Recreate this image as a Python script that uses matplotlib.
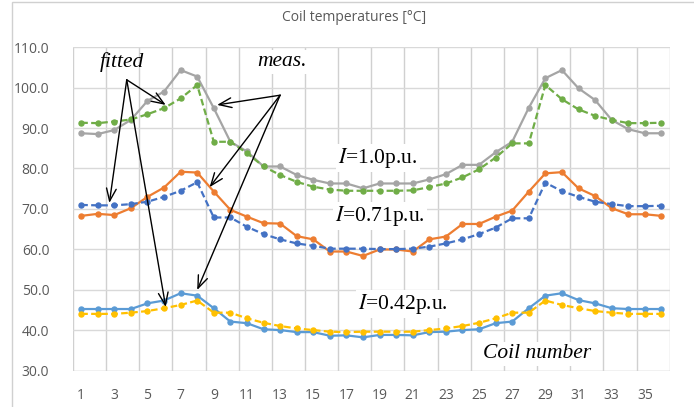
import matplotlib.pyplot as plt
from matplotlib.patches import Rectangle

plt.rcParams['mathtext.fontset'] = 'stix'

coils = list(range(1, 37))

meas_10 = [88.7, 88.5, 89.5, 92.0, 96.7, 99.0, 104.3, 102.7, 94.9, 86.6,
           84.2, 80.5, 80.5, 78.4, 77.2, 76.3, 76.3, 75.1, 76.3, 76.3,
           76.3, 77.3, 78.6, 80.9, 80.9, 84.0, 86.6, 95.0, 102.3, 104.3,
           99.8, 96.9, 92.0, 89.7, 88.7, 88.7]
fit_10 = [91.3, 91.2, 91.6, 92.1, 93.4, 94.9, 97.3, 100.6, 86.6, 86.6,
          83.8, 80.5, 78.4, 76.7, 75.5, 74.8, 74.5, 74.5, 74.5, 74.5,
          74.6, 75.4, 76.3, 77.8, 79.8, 82.7, 86.2, 86.2, 100.6, 97.1,
          94.6, 93.0, 92.0, 91.2, 91.2, 91.3]
meas_071 = [68.3, 68.8, 68.5, 70.2, 73.0, 75.3, 79.2, 79.0, 74.3, 69.8,
            68.1, 66.5, 66.4, 63.3, 62.5, 59.5, 59.5, 58.4, 60.0, 60.0,
            59.5, 62.5, 63.2, 66.3, 66.3, 68.1, 69.6, 74.3, 78.8, 79.1,
            75.1, 73.2, 70.2, 68.7, 68.7, 68.3]
fit_071 = [71.0, 70.9, 70.9, 71.2, 71.8, 73.0, 74.5, 76.6, 67.9, 67.9,
           65.6, 63.8, 62.5, 61.5, 60.9, 60.2, 60.2, 60.2, 60.1, 60.1,
           60.2, 60.7, 61.5, 62.5, 63.8, 65.4, 67.7, 67.7, 76.5, 74.4,
           73.0, 71.8, 71.2, 70.7, 70.7, 70.8]
meas_042 = [45.3, 45.3, 45.3, 45.3, 46.7, 47.4, 49.2, 48.6, 45.5, 42.2,
            41.8, 40.3, 40.1, 39.6, 39.6, 38.7, 38.8, 38.3, 38.9, 38.9,
            38.8, 39.6, 39.7, 40.1, 40.3, 41.8, 42.2, 45.5, 48.6, 49.2,
            47.5, 46.7, 45.5, 45.3, 45.3, 45.3]
fit_042 = [44.1, 44.1, 44.1, 44.4, 44.8, 45.5, 46.3, 47.4, 44.4, 44.4,
           43.0, 41.9, 41.1, 40.5, 40.1, 39.7, 39.6, 39.7, 39.7, 39.7,
           39.7, 40.1, 40.5, 41.1, 41.9, 43.0, 44.4, 44.4, 47.4, 46.3,
           45.5, 44.8, 44.4, 44.1, 44.1, 44.1]

tick_labels = [str(c) for c in range(1, 37, 2)]

fig = plt.figure(figsize=(6.94, 4.07), dpi=100)
ax = fig.add_axes([0.105, 0.0885, 0.86, 0.796])

# chart frame (Excel style)
fig.patches.append(Rectangle((12 / 694, -0.05), 1.0, 1 - 2 / 407 + 0.05,
                             transform=fig.transFigure, fill=False,
                             edgecolor='#d0d0d0', linewidth=1.0))

ms = 3.6
lw = 1.6
dash = (0, (3, 1.5))
ax.plot(coils, meas_10, color='#a5a5a5', lw=lw, marker='o', ms=ms, zorder=3)
ax.plot(coils, fit_10, color='#70ad47', lw=lw, marker='o', ms=ms, ls=dash, zorder=3)
ax.plot(coils, meas_071, color='#ed7d31', lw=lw, marker='o', ms=ms, zorder=3)
ax.plot(coils, fit_071, color='#4472c4', lw=lw, marker='o', ms=ms, ls=dash, zorder=3)
ax.plot(coils, meas_042, color='#5b9bd5', lw=lw, marker='o', ms=ms, zorder=3)
ax.plot(coils, fit_042, color='#ffc000', lw=lw, marker='o', ms=ms, ls=dash, zorder=3)

ax.set_xlim(0.5, 36.5)
ax.set_ylim(30, 110)
ax.set_yticks(range(30, 111, 10))
ax.set_yticklabels([f'{v:.1f}' for v in range(30, 111, 10)])
ax.set_xticks(range(1, 37, 2))
ax.set_xticklabels(tick_labels)
ax.set_xticks([x + 0.5 for x in range(0, 37, 2)], minor=True)
ax.tick_params(which='both', length=0, colors='#595959', labelsize=10)
ax.tick_params(axis='y', pad=17)
ax.tick_params(axis='x', pad=12)
for t in ax.get_xticklabels() + ax.get_yticklabels():
    t.set_family('Open Sans')
ax.grid(axis='y', color='#d9d9d9', lw=1.0)
ax.grid(axis='x', which='minor', color='#d0d0d0', lw=1.0)
for s in ax.spines.values():
    s.set_visible(False)
ax.axhline(30, color='#d9d9d9', lw=1.0, zorder=1)

fig.text(0.51, 0.958, 'Coil temperatures [°C]', ha='center', va='center',
         color='#595959', fontsize=10, family='Open Sans')

fs = 15.5
tf = dict(family='Liberation Serif', fontsize=fs, style='italic')
box = dict(facecolor='white', edgecolor='none', pad=1.5)
arr = dict(arrowstyle='->,head_length=0.9,head_width=0.35', color='black', lw=1.0,
           shrinkA=0, shrinkB=0)

ax.text(3.45, 106.3, 'fitted', ha='center', va='center', zorder=5, **tf)
for tx, ty in [(6.1, 95.7), (2.7, 71.5), (6.1, 45.8)]:
    ax.annotate('', xy=(tx, ty), xytext=(3.75, 101.9), arrowprops=arr, zorder=5)

ax.text(13.1, 106.3, 'meas.', ha='center', va='center', zorder=5, bbox=box, **tf)
for tx, ty in [(9.2, 95.7), (8.75, 75.4), (8.0, 50.0)]:
    ax.annotate('', xy=(tx, ty), xytext=(13.0, 98.1), arrowprops=arr, zorder=5)

lab = dict(family='Liberation Serif', fontsize=fs, ha='center', va='center', zorder=5, bbox=box)
ax.text(18.9, 82.6, '$\\mathit{I}$=1.0p.u.', **lab)
ax.text(19.0, 68.3, '$\\mathit{I}$=0.71p.u.', **lab)
ax.text(20.4, 46.5, '$\\mathit{I}$=0.42p.u.', **lab)
ax.text(28.5, 34.2, 'Coil number', style='italic', **lab)

fig.savefig('out.png', dpi=100)
